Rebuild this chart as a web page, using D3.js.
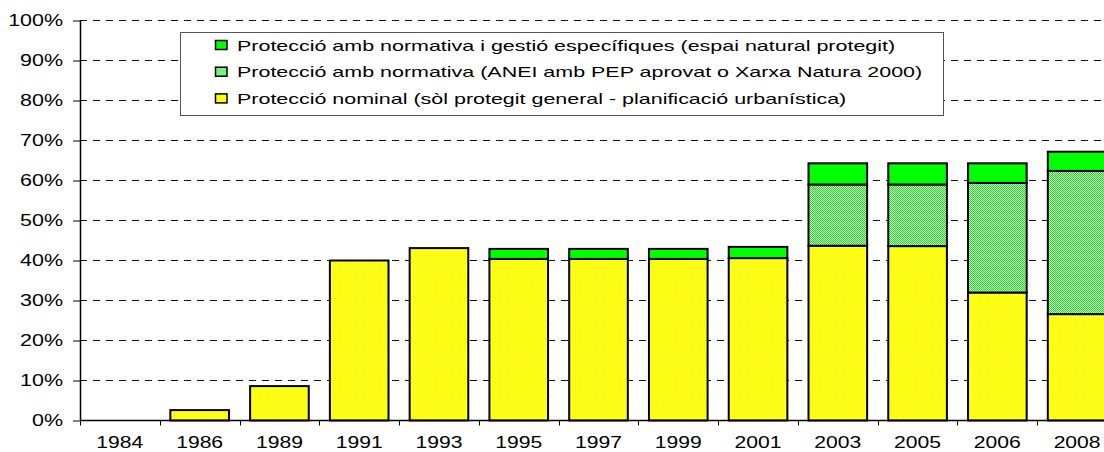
<!DOCTYPE html>
<html>
<head>
<meta charset="utf-8">
<script src="https://cdn.jsdelivr.net/npm/d3@7"></script>
<style>
  html, body { margin: 0; padding: 0; background: #fff; }
  svg { display: block; font-family: "Liberation Sans", Arial, sans-serif; }
</style>
</head>
<body>
<svg id="chart" width="1104" height="452"></svg>
<script>
const categories = ["1984","1986","1989","1991","1993","1995","1997","1999","2001","2003","2005","2006","2008"];
const nominal    = [0, 2.6, 8.6, 40.0, 43.1, 40.4, 40.4, 40.4, 40.6, 43.7, 43.6, 32.0, 26.6];
const normativa  = [0, 0, 0, 0, 0, 0, 0, 0, 0, 15.3, 15.4, 27.4, 35.8];
const especifica = [0, 0, 0, 0, 0, 2.5, 2.5, 2.5, 2.8, 5.3, 5.3, 4.9, 4.8];
const yTicks = [0,10,20,30,40,50,60,70,80,90,100];
const seriesNames = [
  "Protecció amb normativa i gestió específiques (espai natural protegit)",
  "Protecció amb normativa (ANEI amb PEP aprovat o Xarxa Natura 2000)",
  "Protecció nominal (sòl protegit general - planificació urbanística)"
];

const svg = d3.select("#chart");
const defs = svg.append("defs");
// yellow dotted pattern
const py = defs.append("pattern").attr("id","patYellow").attr("patternUnits","userSpaceOnUse").attr("width",3).attr("height",3);
py.append("rect").attr("width",3).attr("height",3).attr("fill","#ffff00");
py.append("rect").attr("x",1).attr("y",1).attr("width",1).attr("height",1).attr("fill","#ffffb0");
// green mesh pattern
const pg = defs.append("pattern").attr("id","patMesh").attr("patternUnits","userSpaceOnUse").attr("width",2).attr("height",2);
pg.append("rect").attr("width",2).attr("height",2).attr("fill","#f0fff0");
pg.append("rect").attr("x",0).attr("y",0).attr("width",1).attr("height",1).attr("fill","#00f000");
pg.append("rect").attr("x",1).attr("y",1).attr("width",1).attr("height",1).attr("fill","#00f000");

const fills = ["#00ff00", "url(#patMesh)", "url(#patYellow)"];

const left = 80, bandW = 79.77;
const x = d3.scaleBand().domain(categories).range([left, left + bandW * categories.length]).padding(0);
const y = d3.scaleLinear().domain([0, 100]).range([420.5, 20.5]);

function stretch(sel, factor) {
  sel.each(function () {
    const L = this.getComputedTextLength();
    this.setAttribute("textLength", L * factor);
    this.setAttribute("lengthAdjust", "spacingAndGlyphs");
  });
}

// gridlines
svg.append("g").selectAll("line").data(yTicks.filter(d => d > 0)).join("line")
  .attr("x1", left).attr("x2", x.range()[1])
  .attr("y1", d => y(d)).attr("y2", d => y(d))
  .attr("stroke", "#111").attr("stroke-width", 1).attr("stroke-dasharray", "7,6");

// stacked bars
const rows = categories.map((c, i) => ({cat: c, nominal: nominal[i], normativa: normativa[i], especifica: especifica[i]}));
const stack = d3.stack().keys(["nominal","normativa","especifica"])(rows);
const barW = x.bandwidth() * 0.735;
const off = (x.bandwidth() - barW) / 2;
const keyFill = {nominal: fills[2], normativa: fills[1], especifica: fills[0]};
stack.forEach(layer => {
  svg.append("g").selectAll("rect").data(layer.filter(d => d[1] - d[0] > 0)).join("rect")
    .attr("x", d => x(d.data.cat) + off)
    .attr("width", barW)
    .attr("y", d => y(d[1]))
    .attr("height", d => y(d[0]) - y(d[1]))
    .attr("fill", keyFill[layer.key])
    .attr("stroke", "#000").attr("stroke-width", 2);
});

// y axis
const yAxis = svg.append("g").attr("transform", `translate(${left},0)`)
  .call(d3.axisLeft(y).tickValues(yTicks).tickFormat(d => d + "%").tickSize(7).tickPadding(10));
yAxis.select(".domain").attr("stroke", "#000").attr("stroke-width", 1.5).attr("d", `M0.5,${y(0)}V${y(100)}`);
yAxis.selectAll(".tick line").attr("stroke", "#000");
yAxis.selectAll("text").attr("font-size", 16.5).attr("fill", "#000").attr("font-family", "Liberation Sans, Arial, sans-serif");
stretch(yAxis.selectAll("text"), 1.3);

// x axis
const xg = svg.append("g").attr("transform", `translate(0,${y(0)})`);
xg.append("line").attr("x1", left).attr("x2", x.range()[1]).attr("y1", 0).attr("y2", 0).attr("stroke", "#000").attr("stroke-width", 1.5);
xg.selectAll(".xt").data(categories).join("line").attr("class","xt")
  .attr("x1", d => Math.round(x(d)) + 0.5).attr("x2", d => Math.round(x(d)) + 0.5)
  .attr("y1", 0).attr("y2", 5).attr("stroke", "#000");
const xl = xg.selectAll(".xl").data(categories).join("text").attr("class","xl")
  .attr("x", d => x(d) + x.bandwidth() / 2).attr("y", 27.5)
  .attr("text-anchor", "middle").attr("font-size", 16.5).attr("fill", "#000")
  .text(d => d);
stretch(xl, 1.28);

// legend
const lg = svg.append("g");
lg.append("rect").attr("x", 180.5).attr("y", 32.5).attr("width", 763).attr("height", 83)
  .attr("fill", "#fff").attr("stroke", "#555").attr("stroke-width", 1);
const items = lg.selectAll(".li").data(seriesNames).join("g").attr("class","li")
  .attr("transform", (d, i) => `translate(0,${45 + i * 26.7})`);
items.append("rect").attr("x", 215.5).attr("y", -4.5).attr("width", 11.5).attr("height", 9)
  .attr("fill", (d, i) => fills[i]).attr("stroke", "#000").attr("stroke-width", 1.5);
const lt = items.append("text").attr("x", 237).attr("y", 5.5).attr("font-size", 15).attr("fill", "#000").text(d => d);
stretch(lt, 1.43);
</script>
</body>
</html>
